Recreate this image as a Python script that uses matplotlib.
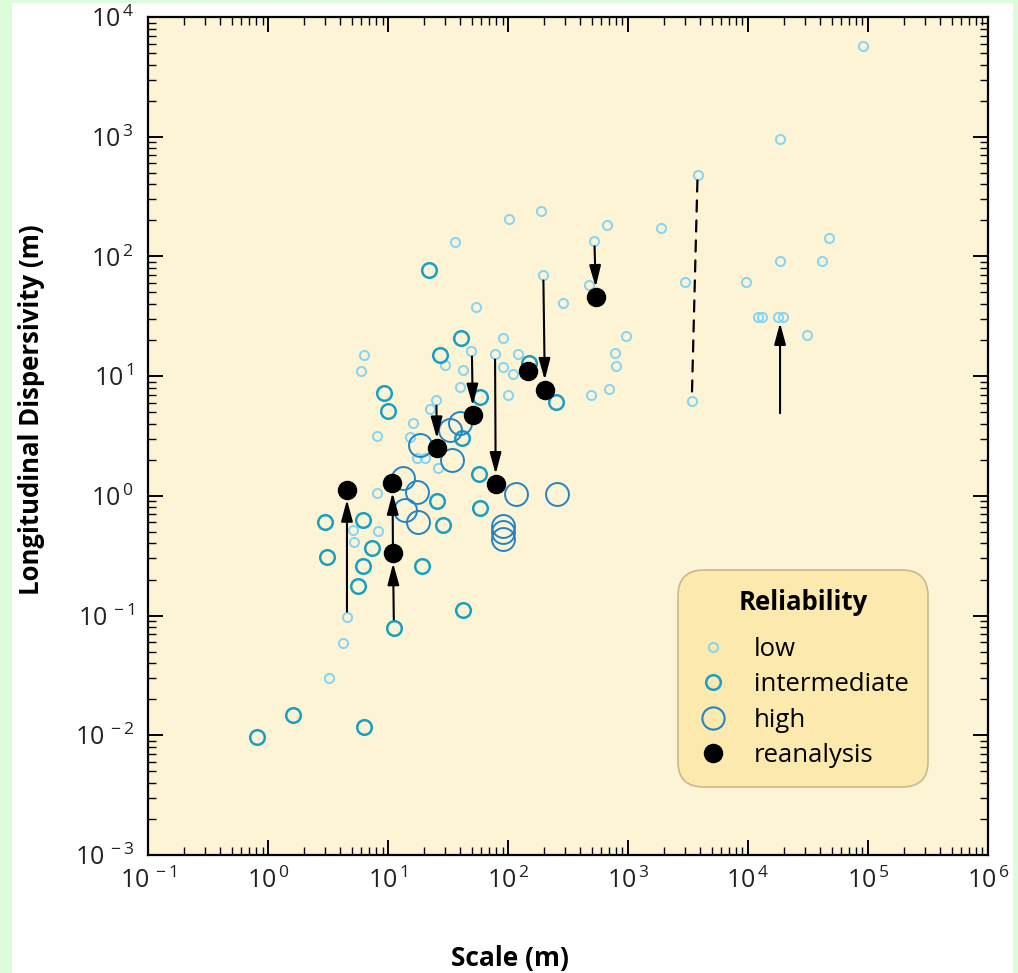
import numpy as np
import matplotlib.pyplot as plt
from matplotlib.lines import Line2D
from matplotlib.patches import Rectangle
from matplotlib.ticker import FuncFormatter

plt.rcParams['font.family'] = ['Open Sans', 'DejaVu Sans']
plt.rcParams['mathtext.default'] = 'regular'

# low reliability (scale m, dispersivity m)
low_x = [9.1e4, 1.85e4, 3.8e3, 4.7e4, 1.9e3, 670, 520, 188, 102, 36,
         196, 287, 473, 3.0e3, 9.6e3, 1.85e4, 4.1e4, 1.21e4, 1.31e4, 1.78e4,
         1.96e4, 3.1e4, 3.4e3, 960, 780, 790, 695, 490, 91, 121,
         91, 110, 100, 54, 30, 49, 78, 42, 40, 25,
         22.4, 16.2, 15.3, 8.1, 17.5, 20.3, 26, 8.1, 8.3, 5.2,
         5.1, 4.55, 4.2, 3.2, 6.3, 6.0]
low_y = [5700, 960, 480, 142, 173, 183, 135, 239, 205, 132,
         70, 41, 58, 61, 61, 92, 92, 31, 31, 31,
         31, 22, 6.2, 21.6, 15.6, 12.1, 7.8, 6.9, 20.8, 15.3,
         11.9, 10.4, 6.9, 38, 12.4, 16.2, 15.3, 11.2, 8.1, 6.3,
         5.3, 4.06, 3.1, 3.16, 2.07, 2.07, 1.71, 1.05, 0.51, 0.41,
         0.52, 0.097, 0.059, 0.030, 15, 11]

# intermediate reliability
mid_x = [22, 40.6, 27, 150, 251, 58, 9.3, 10, 41.4, 57,
         58, 25.6, 28.7, 19.2, 42, 11.2, 3.0, 3.1, 6.2, 7.4,
         6.2, 5.6, 1.6, 0.81, 6.3]
mid_y = [77, 20.8, 15, 12.9, 6.1, 6.7, 7.2, 5.1, 3.04, 1.52,
         0.79, 0.91, 0.57, 0.26, 0.111, 0.079, 0.60, 0.31, 0.63, 0.37,
         0.26, 0.176, 0.0148, 0.0097, 0.0117]

# high reliability
high_x = [18.5, 34, 40, 33, 13.3, 17.5, 13.9, 17.8, 117, 256, 91, 91, 91]
high_y = [2.66, 1.99, 4.1, 3.55, 1.41, 1.08, 0.76, 0.60, 1.03, 1.03, 0.56, 0.50, 0.44]

# reanalysis
rea_x = [4.55, 10.8, 11, 25.6, 51, 79, 147, 203, 541]
rea_y = [1.12, 1.28, 0.33, 2.5, 4.7, 1.26, 11, 7.7, 46]

# arrows: start -> end, and how far to pull back from each end (pt)
arr_x0 = [4.55, 11.2, 11, 25.3, 50, 78, 197, 525, 1.85e4]
arr_y0 = [0.097, 0.079, 0.33, 6.3, 16.2, 15.3, 70, 135, 4.9]
arr_x1 = [4.55, 11, 10.9, 25.6, 51, 79, 203, 541, 1.85e4]
arr_y1 = [1.12, 0.33, 1.28, 2.5, 4.7, 1.26, 7.7, 46, 31]
arr_sa = [4, 6, 7, 4, 4, 4, 4, 4, 0]
arr_sb = [7, 7, 7, 7, 7, 7, 7, 7, 4]

# dashed link
dash_x = [3.8e3, 3.4e3]
dash_y = [480, 6.2]

c_low = '#86d4f4'
c_mid = '#1a9fc4'
c_high = '#2384c4'

fig = plt.figure(figsize=(10.18, 9.73), dpi=100)
fig.patch.set_facecolor('#dcfcdc')
fig.add_artist(Rectangle((12 / 1018, 0), 1001 / 1018, 970 / 973,
                         transform=fig.transFigure, facecolor='white',
                         edgecolor='none', zorder=-10))

ax = fig.add_axes([0.1454, 0.1213, 0.8251, 0.8612])
ax.set_facecolor('#fdf4d5')
ax.set_xscale('log')
ax.set_yscale('log')
ax.set_xlim(1e-1, 1e6)
ax.set_ylim(1e-3, 1e4)

ax.plot(low_x, low_y, 'o', ls='none', ms=6.6, mfc='none', mec=c_low, mew=1.4, zorder=3)
ax.plot(mid_x, mid_y, 'o', ls='none', ms=10.5, mfc='none', mec=c_mid, mew=1.8, zorder=3)
ax.plot(high_x, high_y, 'o', ls='none', ms=16.5, mfc='none', mec=c_high, mew=1.4, zorder=3)

for x0, y0, x1, y1, sa, sb in zip(arr_x0, arr_y0, arr_x1, arr_y1, arr_sa, arr_sb):
    ax.annotate('', xy=(x1, y1), xytext=(x0, y0),
                arrowprops=dict(arrowstyle='-|>,head_length=1.3,head_width=0.35',
                                color='black', lw=1.5, shrinkA=sa, shrinkB=sb),
                zorder=4)

ax.annotate('', xy=(dash_x[1], dash_y[1]), xytext=(dash_x[0], dash_y[0]),
            arrowprops=dict(arrowstyle='-', color='black', lw=1.6,
                            linestyle=(0, (5, 4)), shrinkA=4, shrinkB=4),
            zorder=4)

ax.plot(rea_x, rea_y, 'o', ls='none', ms=13, mfc='black', mec='black', zorder=5)

fmt = FuncFormatter(lambda v, p: r'$10^{\,%d}$' % int(round(np.log10(v))))
ax.xaxis.set_major_formatter(fmt)
ax.yaxis.set_major_formatter(fmt)

ax.tick_params(which='both', direction='in', top=True, right=True)
ax.tick_params(which='major', length=11, width=1.4, labelsize=18, labelcolor='#222222')
ax.tick_params(which='minor', length=5.5, width=1.0)
ax.tick_params(axis='x', which='major', pad=9)
ax.tick_params(axis='y', which='major', pad=10)
for s in ax.spines.values():
    s.set_linewidth(1.6)

fig.text(0.501, 0.0154, 'Scale (m)', ha='center', va='center', fontsize=19,
         fontweight='bold')
fig.text(0.0305, 0.579, 'Longitudinal Dispersivity (m)', ha='center', va='center',
         rotation=90, fontsize=18.5, fontweight='bold')

handles = [
    Line2D([], [], marker='o', ls='none', ms=6.6, mfc='none', mec=c_low, mew=1.4),
    Line2D([], [], marker='o', ls='none', ms=10.5, mfc='none', mec=c_mid, mew=1.8),
    Line2D([], [], marker='o', ls='none', ms=16, mfc='none', mec=c_high, mew=1.5),
    Line2D([], [], marker='o', ls='none', ms=13, mfc='black', mec='black'),
]
labels = ['low', 'intermediate', 'high', 'reanalysis']
leg = ax.legend(handles, labels, title='Reliability', loc='upper left',
                bbox_to_anchor=(0.631, 0.340), borderaxespad=0,
                fontsize=18.5, title_fontsize=18.5,
                labelspacing=0.4, handletextpad=1.0, borderpad=0.75,
                handlelength=1.2, facecolor='#fce9ad', edgecolor='#c8b98e',
                framealpha=1, fancybox=True)
leg.get_title().set_fontweight('bold')
leg._legend_box.sep = 15
leg.get_frame().set_boxstyle('round,pad=0,rounding_size=1.0')
leg.get_frame().set_linewidth(1.2)

fig.savefig('out.png', dpi=100)
